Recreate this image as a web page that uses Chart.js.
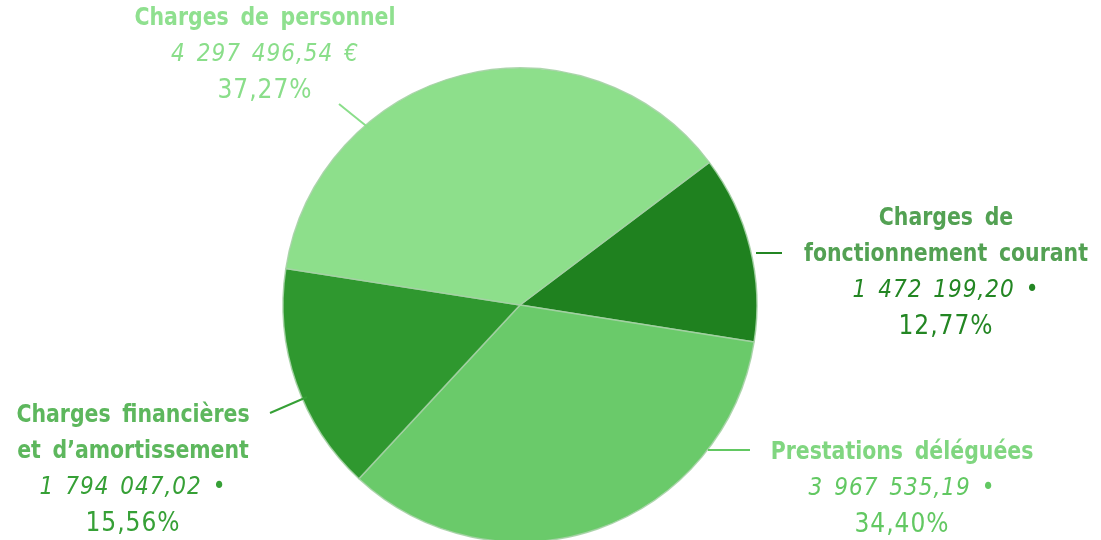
<!DOCTYPE html>
<html>
<head>
<meta charset="utf-8">
<script src="https://cdn.jsdelivr.net/npm/chart.js@4/dist/chart.umd.min.js"></script>
<style>
  html, body { margin: 0; padding: 0; background: #fff; overflow: hidden; }
  #wrap { width: 1101px; height: 540px; position: relative; }
</style>
</head>
<body>
<div id="wrap"><canvas id="pie" width="1101" height="540"></canvas></div>
<script>
// data
const categories = ['Charges de fonctionnement courant', 'Prestations déléguées', 'Charges financières et d\u2019amortissement', 'Charges de personnel'];
const amounts = [1472199.20, 3967535.19, 1794047.02, 4297496.54];
const amountLabels = ['1 472 199,20 \u2022', '3 967 535,19 \u2022', '1 794 047,02 \u2022', '4 297 496,54 \u20ac'];
const percentLabels = ['12,77%', '34,40%', '15,56%', '37,27%'];

const sliceColors = ['#1f811f', '#6aca6a', '#2f982f', '#8ddf8b'];
const titleColors = ['#53a153', '#80d680', '#5db75d', '#8fe08f'];
const textColors = ['#238623', '#62c862', '#36a036', '#8ade8a'];

// label layout (title lines, text center, first line y, leader line)
const labelLayout = [
  { lines: ['Charges de', 'fonctionnement courant'], x: 946, y: 218, line: [[756, 253], [782, 253]] },
  { lines: ['Prestations déléguées'], x: 902, y: 452, line: [[708, 450], [750, 450]] },
  { lines: ['Charges financières', 'et d\u2019amortissement'], x: 133, y: 415, line: [[307, 397], [270, 413]] },
  { lines: ['Charges de personnel'], x: 265, y: 18, line: [[370, 129], [339, 104]] }
];

const FONT = '"DejaVu Sans Condensed", "DejaVu Sans", sans-serif';
const LH = 36;

// text squeezed horizontally, the original font is tall and narrow
function squeezed(ctx, text, x, y, sx) {
  ctx.save();
  ctx.translate(x, y);
  ctx.scale(sx, 1);
  ctx.fillText(text, 0, 0);
  ctx.restore();
}

const outsideLabels = {
  id: 'outsideLabels',
  afterDraw(chart) {
    const ctx = chart.ctx;
    ctx.save();
    ctx.textAlign = 'center';
    ctx.textBaseline = 'middle';
    labelLayout.forEach((lay, i) => {
      // leader line
      ctx.strokeStyle = textColors[i];
      ctx.lineWidth = 2;
      ctx.beginPath();
      ctx.moveTo(lay.line[0][0], lay.line[0][1]);
      ctx.lineTo(lay.line[1][0], lay.line[1][1]);
      ctx.stroke();

      let y = lay.y;
      ctx.fillStyle = titleColors[i];
      ctx.font = 'bold 25px ' + FONT;
      if ('wordSpacing' in ctx) ctx.wordSpacing = '5px';
      if ('letterSpacing' in ctx) ctx.letterSpacing = '0px';
      lay.lines.forEach(t => { squeezed(ctx, t, lay.x, y, 0.91); y += LH; });
      ctx.fillStyle = textColors[i];
      if ('wordSpacing' in ctx) ctx.wordSpacing = '3px';
      if ('letterSpacing' in ctx) ctx.letterSpacing = '1px';
      ctx.font = 'italic 24px ' + FONT;
      ctx.fillText(amountLabels[i], lay.x, y + 1); y += LH;
      if ('letterSpacing' in ctx) ctx.letterSpacing = '1px';
      ctx.font = '26px ' + FONT;
      ctx.fillText(percentLabels[i], lay.x, y + 1);
    });
    ctx.restore();
  }
};

new Chart(document.getElementById('pie'), {
  type: 'pie',
  data: {
    labels: categories,
    datasets: [{
      data: amounts,
      backgroundColor: sliceColors,
      borderColor: 'rgba(165,210,165,0.9)',
      borderWidth: 1.5,
      radius: 237,
      rotation: 53
    }]
  },
  options: {
    responsive: false,
    animation: false,
    events: [],
    layout: { padding: { left: 0, right: 61, top: 70, bottom: 0 } },
    plugins: {
      legend: { display: false },
      tooltip: { enabled: false }
    }
  },
  plugins: [outsideLabels]
});
</script>
</body>
</html>
